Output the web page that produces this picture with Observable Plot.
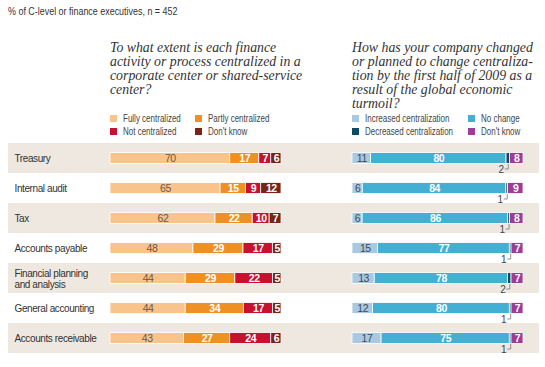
<!DOCTYPE html>
<html><head><meta charset="utf-8">
<script src="https://cdn.jsdelivr.net/npm/d3@7"></script>
<script src="https://cdn.jsdelivr.net/npm/@observablehq/plot@0.6"></script>
<style>
body{margin:0;background:#fff;}
#wrap{position:relative;width:545px;height:367px;overflow:hidden;font-family:"Liberation Sans",Arial,sans-serif;color:#333;}
#wrap > svg{position:absolute;left:0;top:0;}
.title{position:absolute;left:8px;top:5px;font-size:10.5px;color:#333;white-space:nowrap;transform:scaleX(0.85);transform-origin:left top;}
.q{position:absolute;top:41px;font-family:"Liberation Serif",serif;font-style:italic;font-size:13.8px;line-height:14px;color:#333;white-space:nowrap;}
.leg{position:absolute;top:113px;font-size:10px;color:#444;}
.leg .it{position:absolute;white-space:nowrap;display:flex;align-items:center;height:10px;}
.leg .sw{width:7px;height:7px;margin-right:6px;display:inline-block;flex:none;}
.leg .tx{display:inline-block;transform:scaleX(0.8);transform-origin:left center;}
</style></head>
<body>
<div id="wrap"></div>
<script>
const activities = ["Treasury","Internal audit","Tax","Accounts payable","Financial planning\nand analysis","General accounting","Accounts receivable"];

const extentKeys = ["Fully centralized","Partly centralized","Not centralized","Don't know"];
const extentColors = ["#f8c48b","#ef9024","#c8112f","#7a2417"];
const fully   = [70,65,62,48,44,44,43];
const partly  = [17,15,22,29,29,34,27];
const notCent = [7,9,10,17,22,17,24];
const dkLeft  = [6,12,7,5,5,5,6];

const changeKeys = ["Increased centralization","No change","Decreased centralization","Don't know"];
const changeColors = ["#a9c8e1","#43b0d3","#0e4b62","#9d3d96"];
const increased = [11,6,6,15,13,12,17];
const noChange  = [80,84,86,77,78,80,75];
const decreased = [2,1,1,1,2,1,1];
const dkRight   = [8,9,8,7,7,7,7];

const leftSeries = [fully, partly, notCent, dkLeft];
const rightSeries = [increased, noChange, decreased, dkRight];

const left = activities.flatMap((a,i) => extentKeys.map((k,j) => ({activity:a, key:k, value:leftSeries[j][i]})));
const right = activities.flatMap((a,i) => changeKeys.map((k,j) => ({activity:a, key:k, value:rightSeries[j][i]})));
const rows = activities.map((a,i) => ({activity:a, shaded: i % 2 === 0}));

const W = 545, H = 367, MT = 142, MB = 13;
const barInset = 9.6;
const fontFam = '"Liberation Sans",Arial,sans-serif';
const base = {width:W, height:H, marginTop:MT, marginBottom:MB,
  y:{domain:activities, padding:0, axis:null},
  style:{background:"transparent", overflow:"visible", fontFamily:fontFam, letterSpacing:"-0.4px"}};

const wrap = document.getElementById("wrap");

// background bands + row labels
const bg = Plot.plot({...base, marginLeft:8, marginRight:6,
  x:{axis:null},
  marks:[
    Plot.cell(rows.filter(d => d.shaded), {y:"activity", fill:"#eee8e1"}),
    Plot.text(rows, {y:"activity", text:"activity", frameAnchor:"left", dx:6, textAnchor:"start",
      fontSize:10, fill:"#333", lineHeight:1.1})
  ]});
wrap.appendChild(bg);

const stackOpts = (keys, extra) => Plot.stackX({x:"value", y:"activity", z:"key", order:keys, offset:"normalize", ...extra});

// left panel
const lp = Plot.plot({...base, marginLeft:110, marginRight:W-281,
  x:{axis:null, domain:[0,1]},
  color:{domain:extentKeys, range:extentColors},
  marks:[
    Plot.barX(left, stackOpts(extentKeys, {fill:"key", insetTop:barInset, insetBottom:barInset, stroke:"white", strokeWidth:0.8})),
    Plot.text(left, stackOpts(extentKeys, {text: d => d.key === "Fully centralized" ? String(d.value) : "", fill:"#6b5846", fontSize:10.5})),
    Plot.text(left, stackOpts(extentKeys, {text: d => d.key !== "Fully centralized" ? String(d.value) : "", fill:"white", fontSize:10.5, fontWeight:"bold"}))
  ]});
wrap.appendChild(lp);

// callout symbol
const callout = {draw(ctx){ ctx.moveTo(0,-5); ctx.lineTo(0,0); ctx.lineTo(-3.5,0); }};

// right panel
const rp = Plot.plot({...base, marginLeft:352, marginRight:W-523,
  x:{axis:null, domain:[0,1]},
  color:{domain:changeKeys, range:changeColors},
  r:{range:[0,3]},
  marks:[
    Plot.barX(right, stackOpts(changeKeys, {fill:"key", insetTop:barInset, insetBottom:barInset, stroke:"white", strokeWidth:0.8})),
    Plot.text(right, stackOpts(changeKeys, {text: d => d.key === "Increased centralization" ? String(d.value) : "", fill:"#3d4b57", fontSize:10.5})),
    Plot.text(right, stackOpts(changeKeys, {text: d => (d.key === "No change" || d.key === "Don't know") ? String(d.value) : "", fill:"white", fontSize:10.5, fontWeight:"bold"})),
    Plot.dot(right, stackOpts(changeKeys, {r: d => d.key === "Decreased centralization" ? 1 : 0, symbol:callout, fill:"none", stroke:"#777", strokeWidth:0.8, dy:10.5})),
    Plot.text(right, stackOpts(changeKeys, {text: d => d.key === "Decreased centralization" ? String(d.value) : "", fill:"#444", fontSize:10, textAnchor:"end", dx:-4.5, dy:11}))
  ]});
wrap.appendChild(rp);

// titles
const t = document.createElement("div");
t.className = "title";
t.textContent = "% of C-level or finance executives, n = 452";
wrap.appendChild(t);

const q1 = document.createElement("div");
q1.className = "q"; q1.style.left = "110px";
q1.innerHTML = "To what extent is each finance<br>activity or process centralized in a<br>corporate center or shared-service<br>center?";
wrap.appendChild(q1);

const q2 = document.createElement("div");
q2.className = "q"; q2.style.left = "352px";
q2.innerHTML = "How has your company changed<br>or planned to change centraliza-<br>tion by the first half of 2009 as a<br>result of the global economic<br>turmoil?";
wrap.appendChild(q2);

function legend(keys, colors, x0, colW){
  const d = document.createElement("div");
  d.className = "leg"; d.style.left = x0 + "px";
  keys.forEach((k,i) => {
    const it = document.createElement("div");
    it.className = "it";
    it.style.left = ((i % 2) * colW) + "px";
    it.style.top = (Math.floor(i / 2) * 13) + "px";
    it.innerHTML = `<span class="sw" style="background:${colors[i]}"></span><span class="tx">${k}</span>`;
    d.appendChild(it);
  });
  wrap.appendChild(d);
}
legend(extentKeys, extentColors, 110, 85);
legend(changeKeys, changeColors, 352, 116);
</script>
</body></html>
